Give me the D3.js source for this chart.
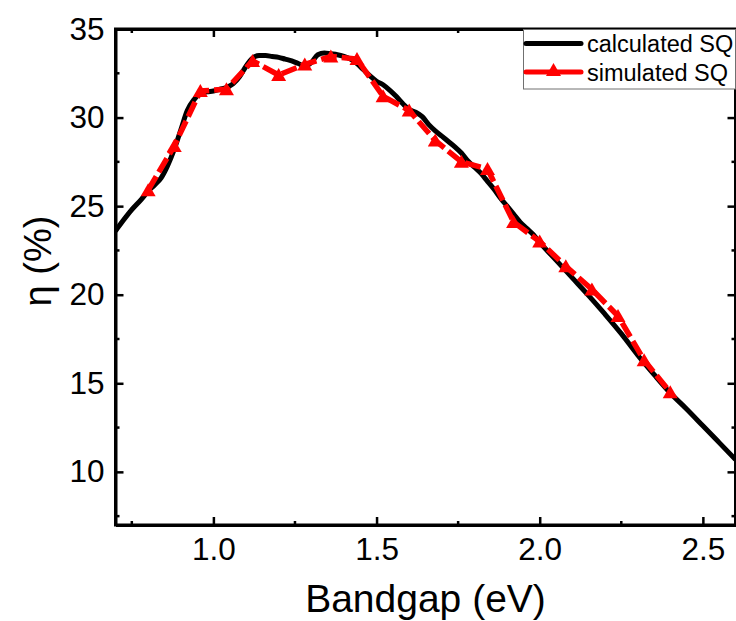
<!DOCTYPE html>
<html>
<head>
<meta charset="utf-8">
<script src="https://cdn.jsdelivr.net/npm/d3@7"></script>
<style>
  html, body { margin: 0; padding: 0; background: #fff; }
  svg { display: block; }
  text { font-family: Arial, "Liberation Sans", sans-serif; fill: #000; }
</style>
</head>
<body>
<svg id="chart" width="736" height="621"></svg>
<script>
// ---------- data ----------
const calcX = [0.70, 0.72, 0.75, 0.78, 0.80, 0.82, 0.84, 0.86, 0.88, 0.90, 0.92, 0.94, 0.96, 0.98,
  1.00, 1.02, 1.04, 1.06, 1.08, 1.10, 1.12, 1.14, 1.16, 1.18, 1.20, 1.22, 1.24, 1.26, 1.28, 1.30,
  1.32, 1.34, 1.36, 1.38, 1.40, 1.42, 1.44, 1.46, 1.48, 1.50, 1.52, 1.54, 1.56, 1.58, 1.60, 1.62,
  1.64, 1.66, 1.68, 1.70, 1.72, 1.74, 1.76, 1.78, 1.80, 1.82, 1.84, 1.86, 1.88, 1.90, 1.92, 1.94,
  1.96, 1.98, 2.00, 2.05, 2.10, 2.15, 2.20, 2.25, 2.30, 2.35, 2.40, 2.45, 2.50, 2.55, 2.60];
const calcY = [23.6, 24.1, 24.8, 25.4, 25.85, 26.2, 26.6, 27.3, 28.2, 29.3, 30.4, 31.0, 31.35, 31.45,
  31.5, 31.6, 31.7, 31.9, 32.3, 32.9, 33.35, 33.5, 33.5, 33.45, 33.4, 33.3, 33.2, 33.05, 32.9, 33.1,
  33.55, 33.65, 33.6, 33.55, 33.45, 33.3, 33.05, 32.7, 32.35, 32.05, 31.85, 31.55, 31.2, 30.8, 30.45, 30.3,
  30.05, 29.6, 29.25, 28.95, 28.65, 28.35, 28.0, 27.55, 27.2, 26.85, 26.4, 25.95, 25.45, 25.0, 24.55, 24.1,
  23.75, 23.4, 22.95, 21.95, 20.95, 19.95, 18.9, 17.8, 16.6, 15.5, 14.45, 13.55, 12.6, 11.65, 10.7];

const simX = [0.80, 0.88, 0.96, 1.04, 1.12, 1.20, 1.28, 1.36, 1.44, 1.52, 1.60, 1.68, 1.76, 1.84,
  1.92, 2.00, 2.08, 2.16, 2.24, 2.32, 2.40];
const simY = [25.9, 28.4, 31.5, 31.6, 33.2, 32.4, 33.0, 33.45, 33.3, 31.2, 30.4, 28.7, 27.5, 27.1,
  24.1, 23.0, 21.6, 20.3, 18.8, 16.3, 14.5];

const seriesNames = ["calculated SQ", "simulated SQ"];
const xMajor = [1.0, 1.5, 2.0, 2.5];
const xMinor = [0.75, 1.25, 1.75, 2.25];
const yMajor = [10, 15, 20, 25, 30, 35];
const yMinor = [7.5, 12.5, 17.5, 22.5, 27.5, 32.5];
const xDomain = [0.7, 2.6];
const yDomain = [7, 35];
const xTitle = "Bandgap (eV)";
const yTitle = "η (%)";

// ---------- layout ----------
const svg = d3.select("#chart");
const L = 115.5, R = 735.5, T = 29, B = 525;
const x = d3.scaleLinear().domain(xDomain).range([L, R]);
const y = d3.scaleLinear().domain(yDomain).range([B, T]);

const calc = calcX.map((v, i) => [v, calcY[i]]);
const sim = simX.map((v, i) => [v, simY[i]]);

svg.append("defs").append("clipPath").attr("id", "clip")
  .append("rect").attr("x", L).attr("y", T).attr("width", R - L).attr("height", B - T);

const plot = svg.append("g").attr("clip-path", "url(#clip)");

plot.append("path")
  .datum(calc)
  .attr("fill", "none")
  .attr("stroke", "#000")
  .attr("stroke-width", 5)
  .attr("stroke-linejoin", "round")
  .attr("d", d3.line().x(d => x(d[0])).y(d => y(d[1])).curve(d3.curveMonotoneX));

plot.append("path")
  .datum(sim)
  .attr("fill", "none")
  .attr("stroke", "#ff0000")
  .attr("stroke-width", 5.5)
  .attr("stroke-dasharray", "16,5")
  .attr("d", d3.line().x(d => x(d[0])).y(d => y(d[1])));

const tri = "M0,-7L7.5,6L-7.5,6Z";
plot.selectAll(".tri").data(sim).enter().append("path")
  .attr("class", "tri")
  .attr("d", tri)
  .attr("transform", d => `translate(${x(d[0])},${y(d[1])})`)
  .attr("fill", "#ff0000");

// ---------- axes ----------
function styleAxis(g) {
  g.select(".domain").attr("stroke", "#000").attr("stroke-width", 3);
  g.selectAll(".tick line").attr("stroke", "#000").attr("stroke-width", 2.5);
  g.selectAll("text").attr("font-family", "Arial, 'Liberation Sans', sans-serif").attr("font-size", 31.5).attr("fill", "#000");
}
function minorTicks(g, scale, vals, orient) {
  vals.forEach(v => {
    const p = scale(v);
    let l;
    if (orient === "bottom") l = [p, B, p, B - 4];
    if (orient === "top") l = [p, T, p, T + 4];
    if (orient === "left") l = [L, p, L + 4, p];
    if (orient === "right") l = [R, p, R - 4, p];
    g.append("line").attr("x1", l[0]).attr("y1", l[1]).attr("x2", l[2]).attr("y2", l[3])
      .attr("stroke", "#000").attr("stroke-width", 2.5);
  });
}

const gx = svg.append("g").attr("transform", `translate(0,${B})`)
  .call(d3.axisBottom(x).tickValues(xMajor).tickFormat(d3.format(".1f"))
    .tickSizeInner(-8).tickSizeOuter(0).tickPadding(13));
styleAxis(gx);
const gxt = svg.append("g").attr("transform", `translate(0,${T})`)
  .call(d3.axisTop(x).tickValues(xMajor).tickFormat("").tickSizeInner(-8).tickSizeOuter(0));
styleAxis(gxt);
const gy = svg.append("g").attr("transform", `translate(${L},0)`)
  .call(d3.axisLeft(y).tickValues(yMajor).tickFormat(d3.format("d"))
    .tickSizeInner(-8).tickSizeOuter(0).tickPadding(11));
styleAxis(gy);
const gyr = svg.append("g").attr("transform", `translate(${R},0)`)
  .call(d3.axisRight(y).tickValues(yMajor).tickFormat("").tickSizeInner(-8).tickSizeOuter(0));
styleAxis(gyr);

const gm = svg.append("g");
minorTicks(gm, x, xMinor, "bottom");
minorTicks(gm, x, xMinor, "top");
minorTicks(gm, y, yMinor, "left");
minorTicks(gm, y, yMinor, "right");

svg.append("rect").attr("x", L).attr("y", T).attr("width", R - L).attr("height", B - T)
  .attr("fill", "none").attr("stroke", "#000").attr("stroke-width", 3);

// titles
svg.append("text")
  .attr("x", (L + R) / 2).attr("y", 612)
  .attr("text-anchor", "middle").attr("font-size", 39)
  .text(xTitle);
svg.append("text")
  .attr("transform", `translate(51,${(T + B) / 2 - 16}) rotate(-90)`)
  .attr("text-anchor", "middle").attr("font-size", 38)
  .text(yTitle);

// ---------- legend ----------
const lg = svg.append("g");
lg.append("rect").attr("x", 523.5).attr("y", 29.5).attr("width", 212).attr("height", 59.5)
  .attr("fill", "#fff").attr("stroke", "#707070").attr("stroke-width", 1);
const rowsY = [43.5, 72];
lg.append("line").attr("x1", 526).attr("x2", 581).attr("y1", rowsY[0]).attr("y2", rowsY[0])
  .attr("stroke", "#000").attr("stroke-width", 5).attr("stroke-linecap", "round");
lg.append("line").attr("x1", 526).attr("x2", 581).attr("y1", rowsY[1]).attr("y2", rowsY[1])
  .attr("stroke", "#ff0000").attr("stroke-width", 5).attr("stroke-linecap", "round");
lg.append("path").attr("d", tri).attr("transform", `translate(553.5,${rowsY[1] - 2})`).attr("fill", "#ff0000");
seriesNames.forEach((s, i) => {
  lg.append("text").attr("x", 587).attr("y", rowsY[i] + 8.5)
    .attr("font-size", 23.5).text(s);
});
</script>
</body>
</html>
